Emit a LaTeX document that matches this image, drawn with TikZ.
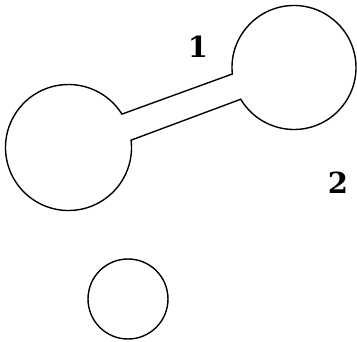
\documentclass[tikz,border=0pt]{standalone}
\usepackage{fontspec}
\newfontfamily\labelfont{DejaVu Serif}
\usetikzlibrary{calc}
\begin{document}
\begin{tikzpicture}[x=1pt,y=1pt,
  outline/.style={draw=black,line width=1.4pt,line join=miter},
  numlabel/.style={font=\labelfont\fontsize{29}{29}\selectfont\bfseries,inner sep=0pt}]
\useasboundingbox (0,0) rectangle (357,341);
\coordinate (L) at (68.5,193.5);
\coordinate (R) at (294,273.5);
\coordinate (S) at (128,42);
\draw[outline] ($(L)+(32:63)$) -- ($(R)+(186:62)$)
  arc[start angle=186,end angle=-149.2,radius=62]
  -- ($(L)+(6.7:63)$)
  arc[start angle=6.7,end angle=-328,radius=63] -- cycle;
\node[outline,circle,minimum size=80pt,inner sep=0pt] (small) at (S) {};
\node[numlabel] (one) at (198,294.5) {1};
\node[numlabel] (two) at (338,158.5) {2};
\end{tikzpicture}
\end{document}
